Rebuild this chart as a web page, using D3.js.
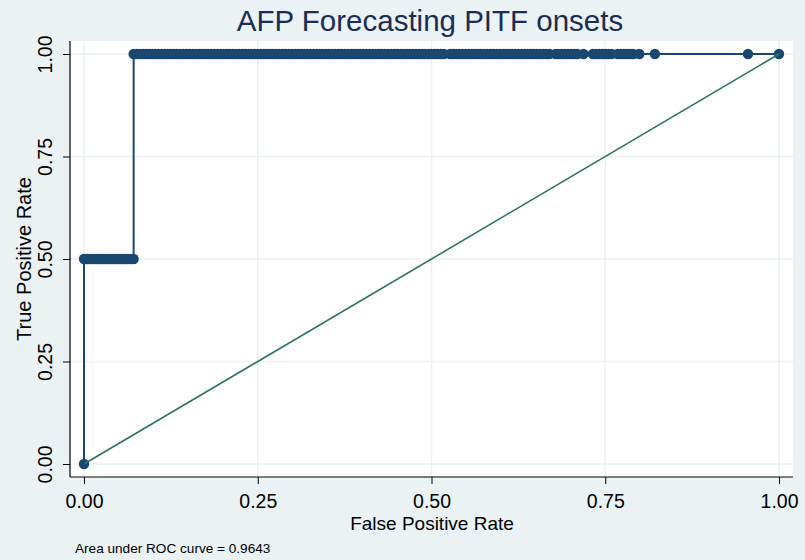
<!DOCTYPE html>
<html><head><meta charset="utf-8">
<script src="https://cdn.jsdelivr.net/npm/d3@7"></script>
<style>body{margin:0;background:#eaf2f3}svg{display:block;font-family:"Liberation Sans",Arial,sans-serif}</style>
</head><body>
<svg id="chart" width="805" height="560"></svg>
<script>
const titleText = "AFP Forecasting PITF onsets";
const xTitle = "False Positive Rate";
const yTitle = "True Positive Rate";
const noteText = "Area under ROC curve = 0.9643";
const tickValues = [0, 0.25, 0.5, 0.75, 1];
const nNegatives = 224;
const tprLevels = [0, 0.5, 1];
// false-positive counts (out of nNegatives) at each cut-off, grouped by TPR level
const fpAtTpr0 = [0];
const fpAtTpr05 = [0,1,2,3,4,5,6,7,8,9,10,11,12,13,14,15,16];
const fpAtTpr1 = [16,17,18,19,20,21,22,23,24,25,26,27,28,29,30,31,32,33,34,35,36,37,38,39,40,41,42,43,44,45,46,47,48,49,50,51,52,53,54,55,56,57,58,59,60,61,62,63,64,65,66,67,68,69,70,71,72,73,74,75,76,77,78,79,80,81,82,83,84,85,86,87,88,89,90,91,92,93,94,95,96,97,98,99,100,101,102,103,104,105,106,107,108,109,110,111,112,113,114,115,116,118,119,120,121,122,123,124,125,126,127,128,129,130,131,132,133,134,135,136,137,138,139,140,141,142,143,144,145,146,147,148,149,150,152,153,154,155,156,157,158,159,161,164,165,166,167,168,169,170,172,173,174,175,176,177,179,184,214,224];
const refLine = [[0,0],[1,1]];

const points = [];
[fpAtTpr0, fpAtTpr05, fpAtTpr1].forEach((arr, i) => arr.forEach(c => points.push({x: c / nNegatives, y: tprLevels[i]})));

const svg = d3.select("#chart");
const W = 805, H = 560;
const plot = {left: 70, right: 793, top: 41, bottom: 477};
const x = d3.scaleLinear().domain([0,1]).range([84, 779]);
const y = d3.scaleLinear().domain([0,1]).range([464, 54]);
const navy = "#1a476f", teal = "#2c7562", gridC = "#eaf2f3";

svg.append("rect").attr("width", W).attr("height", H).attr("fill", "#eaf2f3");
svg.append("rect").attr("x", plot.left).attr("y", plot.top)
  .attr("width", plot.right - plot.left).attr("height", plot.bottom - plot.top).attr("fill", "#fff");

// grid
svg.append("g").selectAll("line").data(tickValues).join("line")
  .attr("x1", d => x(d)).attr("x2", d => x(d)).attr("y1", plot.top).attr("y2", plot.bottom)
  .attr("stroke", gridC).attr("stroke-width", 1.5);
svg.append("g").selectAll("line").data(tickValues).join("line")
  .attr("y1", d => y(d)).attr("y2", d => y(d)).attr("x1", plot.left).attr("x2", plot.right)
  .attr("stroke", gridC).attr("stroke-width", 1.5);

// axes
const fmt = d3.format(".2f");
const xAxis = d3.axisBottom(x).tickValues(tickValues).tickFormat(fmt).tickSize(7).tickSizeOuter(0);
const gx = svg.append("g").attr("transform", `translate(0,${plot.bottom})`).call(xAxis);
gx.select(".domain").remove();
gx.selectAll(".tick line").attr("stroke", "#000");
gx.selectAll(".tick text").attr("font-size", 19.5).attr("fill", "#000").attr("y", 31).attr("dy", 0)
  .attr("font-family", '"Liberation Sans",Arial,sans-serif');
svg.append("line").attr("x1", plot.left).attr("x2", plot.right).attr("y1", plot.bottom).attr("y2", plot.bottom)
  .attr("stroke", "#000").attr("stroke-width", 1.2);

const yAxis = d3.axisLeft(y).tickValues(tickValues).tickFormat(fmt).tickSize(7).tickSizeOuter(0);
const gy = svg.append("g").attr("transform", `translate(${plot.left},0)`).call(yAxis);
gy.select(".domain").remove();
gy.selectAll(".tick line").attr("stroke", "#000");
gy.selectAll(".tick text").attr("font-size", 19.5).attr("fill", "#000")
  .attr("font-family", '"Liberation Sans",Arial,sans-serif')
  .attr("x", null).attr("dy", 0).attr("text-anchor", "middle")
  .attr("transform", "translate(-18,0) rotate(-90)");
svg.append("line").attr("x1", plot.left).attr("x2", plot.left).attr("y1", plot.top).attr("y2", plot.bottom)
  .attr("stroke", "#000").attr("stroke-width", 1.2);

// ROC curve
const line = d3.line().x(d => x(d.x)).y(d => y(d.y));
svg.append("path").datum(points).attr("d", line).attr("fill", "none")
  .attr("stroke", navy).attr("stroke-width", 2);
svg.append("g").selectAll("circle").data(points).join("circle")
  .attr("cx", d => x(d.x)).attr("cy", d => y(d.y)).attr("r", 5.2).attr("fill", navy);

// reference line
svg.append("path").datum(refLine).attr("d", d3.line().x(d => x(d[0])).y(d => y(d[1])))
  .attr("fill", "none").attr("stroke", teal).attr("stroke-width", 1.6);

// titles
svg.append("text").attr("x", 430).attr("y", 31).attr("text-anchor", "middle")
  .attr("font-size", 29.5).attr("fill", "#1c2c52").text(titleText);
svg.append("text").attr("x", 432).attr("y", 530).attr("text-anchor", "middle")
  .attr("font-size", 19).attr("fill", "#000").text(xTitle);
svg.append("text").attr("transform", `translate(31,${(y(0)+y(1))/2}) rotate(-90)`).attr("text-anchor", "middle")
  .attr("font-size", 20).attr("fill", "#000").text(yTitle);
svg.append("text").attr("x", 75).attr("y", 553).attr("font-size", 13.6).attr("fill", "#000").text(noteText);
</script>
</body></html>
